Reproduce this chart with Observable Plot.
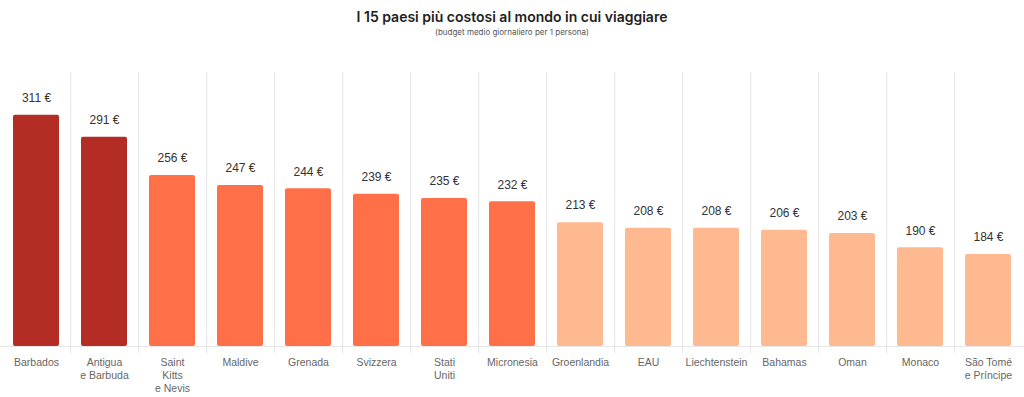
<!DOCTYPE html>
<html>
<head>
<meta charset="utf-8">
<script src="https://cdn.jsdelivr.net/npm/d3@7"></script>
<script src="https://cdn.jsdelivr.net/npm/@observablehq/plot@0.6"></script>
<style>
  html, body { margin: 0; padding: 0; background: #fff; }
  #title { height: 46px; text-align: center; font-family: Inter, "Noto Sans", sans-serif; box-sizing: border-box; padding-top: 8px; }
  #title .t { font-size: 14px; font-weight: 600; color: #222; line-height: 18px; }
  #title .s { font-size: 8px; color: #555; line-height: 12px; }
</style>
</head>
<body>
<div id="title">
  <div class="t">I 15 paesi più costosi al mondo in cui viaggiare</div>
  <div class="s">(budget medio giornaliero per 1 persona)</div>
</div>
<div id="chart"></div>
<script>
const countries = ["Barbados", "Antigua\ne Barbuda", "Saint\nKitts\ne Nevis", "Maldive", "Grenada", "Svizzera", "Stati\nUniti", "Micronesia", "Groenlandia", "EAU", "Liechtenstein", "Bahamas", "Oman", "Monaco", "São Tomé\ne Príncipe"];
const budgets = [311, 291, 256, 247, 244, 239, 235, 232, 213, 208, 208, 206, 203, 190, 184];
const groups = ["top", "top", "mid", "mid", "mid", "mid", "mid", "mid", "low", "low", "low", "low", "low", "low", "low"];
const groupNames = ["top", "mid", "low"];
const groupColors = ["#b32d24", "#ff7049", "#ffb991"];
const yDomain = [100, 350];

const data = countries.map((c, i) => ({country: c, value: budgets[i], group: groups[i]}));
const W = 1024, H = 351;
const step = W / countries.length;

const chart = Plot.plot({
  width: W,
  height: H,
  marginLeft: 0,
  marginRight: 0,
  marginTop: 26,
  marginBottom: 51,
  style: {fontFamily: "'Liberation Sans', Arial, sans-serif", background: "#fff"},
  x: {domain: countries, padding: 0, axis: null},
  y: {domain: yDomain, axis: null},
  color: {domain: groupNames, range: groupColors},
  marks: [
    Plot.ruleX(countries.slice(0, -1), {x: d => d, dx: step / 2, stroke: "#e3e3e3", strokeWidth: 1, insetBottom: -7}),
    Plot.ruleY([yDomain[0]], {stroke: "#e6e6e6", strokeWidth: 1}),
    Plot.barY(data, {x: "country", y1: yDomain[0], y2: "value", fill: "group", insetLeft: 11, insetRight: 11, rx: 2}),
    Plot.text(data, {x: "country", y: "value", text: d => `${d.value} €`, dy: -17, fontSize: 12, fill: "#333"}),
    Plot.text(data, {x: "country", y: yDomain[0], text: "country", lineAnchor: "top", dy: 10, fontSize: 10.5, lineHeight: 1.25, fill: "#666"})
  ]
});
document.getElementById("chart").appendChild(chart);
</script>
</body>
</html>
